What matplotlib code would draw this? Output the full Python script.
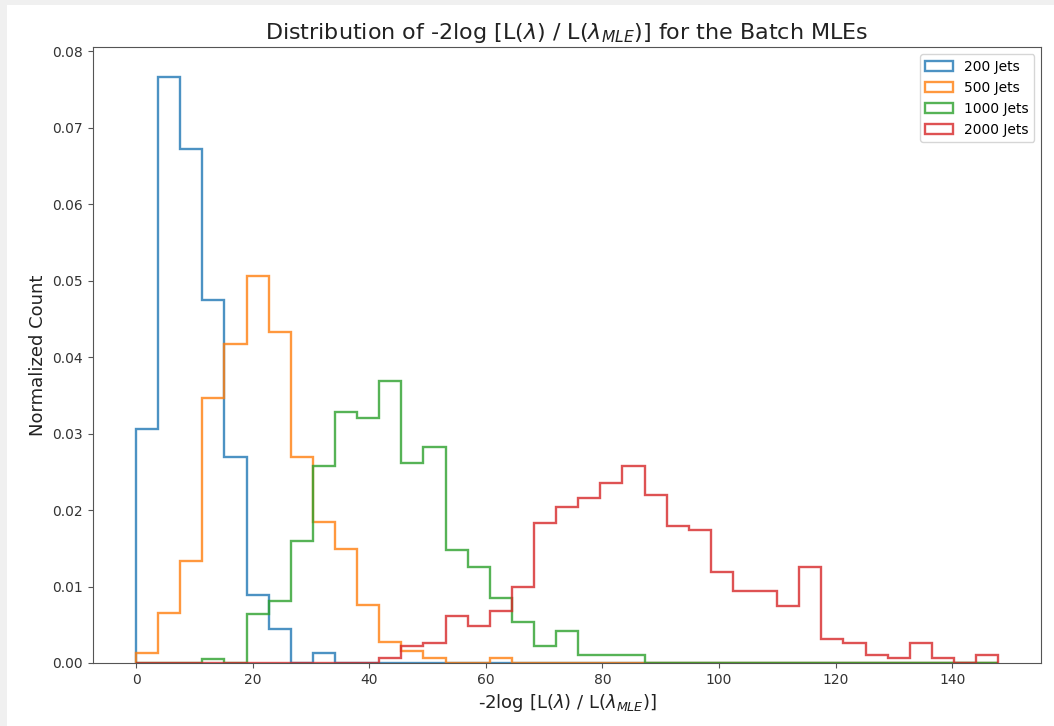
import matplotlib
matplotlib.use("Agg")
import matplotlib.pyplot as plt
import numpy as np

# Shared binning: 39 equal bins from 0 up to the largest statistic seen.
bin_edges = np.linspace(0.0, 147.9, 40)

labels = ["200 Jets", "500 Jets", "1000 Jets", "2000 Jets"]

# Normalized counts per bin (density), one list per batch size.
density_200 = [0.0306, 0.0767, 0.0672, 0.0475, 0.0270, 0.0089, 0.0044, 0.0, 0.0013]
density_500 = [0.0013, 0.0065, 0.0133, 0.0347, 0.0417, 0.0506, 0.0433, 0.0269,
               0.0184, 0.0149, 0.0076, 0.0027, 0.0016, 0.0006, 0.0, 0.0, 0.0006]
density_1000 = [0.0, 0.0, 0.0, 0.0005, 0.0, 0.0064, 0.0081, 0.0159, 0.0258,
                0.0328, 0.0321, 0.0369, 0.0262, 0.0283, 0.0148, 0.0125, 0.0085,
                0.0053, 0.0022, 0.0042, 0.0011, 0.0011, 0.0011]
density_2000 = [0.0, 0.0, 0.0, 0.0, 0.0, 0.0, 0.0, 0.0, 0.0, 0.0, 0.0, 0.0006,
                0.0022, 0.0026, 0.0062, 0.0048, 0.0068, 0.0100, 0.0183, 0.0204,
                0.0216, 0.0236, 0.0257, 0.0220, 0.0179, 0.0174, 0.0119, 0.0094,
                0.0094, 0.0075, 0.0126, 0.0031, 0.0026, 0.0011, 0.0006, 0.0026,
                0.0006, 0.0, 0.0011]

all_densities = [density_200, density_500, density_1000, density_2000]

n_bins = len(bin_edges) - 1
bin_centres = (bin_edges[:-1] + bin_edges[1:]) / 2.0

fig = plt.figure(figsize=(10.54, 7.26), dpi=100)
fig.patch.set_facecolor("#f0f0f0")
# white canvas inset slightly from the top-left corner, kept behind the axes
fig.patches.append(plt.Rectangle((7 / 1054, 0), 1.0, 1.0 - 5 / 726,
                                 transform=fig.transFigure, facecolor="white",
                                 edgecolor="none", zorder=-10))
ax = fig.add_axes([0.0882, 0.0868, 0.8998, 0.8482])

for index in range(len(labels)):
    heights = np.zeros(n_bins)
    values = all_densities[index]
    heights[:len(values)] = values
    ax.hist(bin_centres, bins=bin_edges, weights=heights, histtype="step",
            linewidth=1.7, alpha=0.8, color="C" + str(index), label=labels[index])

ax.set_title(r"Distribution of -2log [L($\lambda$) / L($\lambda_{MLE}$)] for the Batch MLEs",
             fontsize=16, color="#222222")
ax.set_xlabel(r"-2log [L($\lambda$) / L($\lambda_{MLE}$)]", fontsize=13, color="#222222")
ax.set_ylabel("Normalized Count", fontsize=13, color="#222222")
ax.tick_params(labelcolor="#333333", color="#555555")
for spine in ax.spines.values():
    spine.set_color("#555555")
ax.legend(loc="upper right")

fig.savefig("out.png", dpi=100, facecolor=fig.get_facecolor())
